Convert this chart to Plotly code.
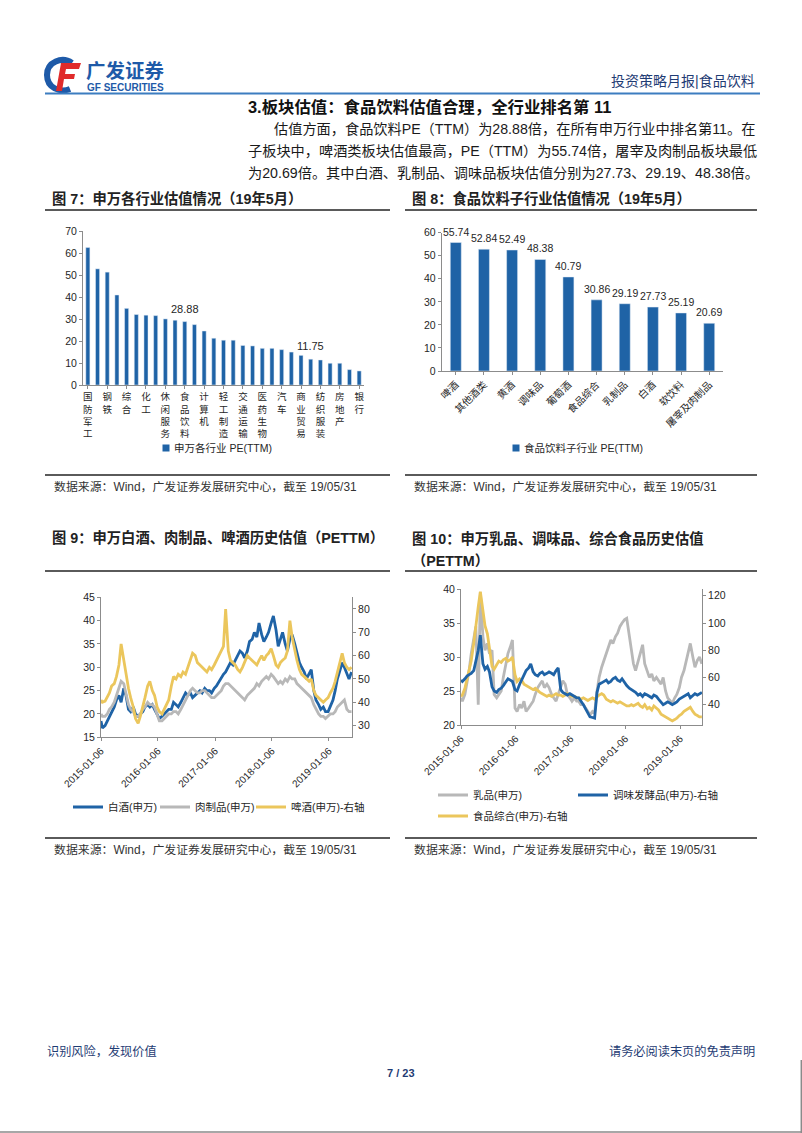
import plotly.graph_objects as go

W, H = 802, 1133


def X(px):
    return px / W


def Y(py):
    return 1 - py / H


BLUE = "#1F63A6"
GRAY = "#B8B8B8"
YELLOW = "#EBC65C"
AX = "#8C8C8C"
TXT = "#262626"
NAVY = "#1F3C74"
FONT = "Liberation Sans, Arial, Noto Sans CJK SC, sans-serif"

# ---------------- Figure 7 data ----------------
industries = ["国防军工", "通信", "钢铁", "电子", "综合", "传媒", "化工", "农林牧渔", "休闲服务",
              "有色金属", "食品饮料", "电气设备", "计算机", "机械设备", "轻工制造", "家用电器",
              "交通运输", "公用事业", "医药生物", "建筑材料", "汽车", "全部A股", "商业贸易",
              "非银金融", "纺织服装", "建筑装饰", "房地产", "采掘", "银行"]
industry_pe = [62.6, 52.9, 51.4, 41.0, 34.9, 32.1, 31.8, 31.6, 30.1, 29.5, 28.88, 27.5, 24.6,
               21.3, 20.4, 20.4, 18.0, 17.8, 16.7, 16.7, 16.1, 15.0, 13.5, 11.75, 11.4, 9.9,
               9.9, 7.0, 6.4]
industry_ticks = ["国防军工", "钢铁", "综合", "化工", "休闲服务", "食品饮料", "计算机", "轻工制造",
                  "交通运输", "医药生物", "汽车", "商业贸易", "纺织服装", "房地产", "银行"]
industry_labelled = ["食品饮料", "非银金融"]
industry_series = "申万各行业 PE(TTM)"

# ---------------- Figure 8 data ----------------
sub_names = ["啤酒", "其他酒类", "黄酒", "调味品", "葡萄酒", "食品综合", "乳制品", "白酒", "软饮料", "屠宰及肉制品"]
sub_pe = [55.74, 52.84, 52.49, 48.38, 40.79, 30.86, 29.19, 27.73, 25.19, 20.69]
sub_series = "食品饮料子行业 PE(TTM)"

# ---------------- Time grid (semi-monthly samples) ----------------
dates = ["2015-01-06", "2015-01-15"]
for yr in range(2015, 2020):
    for mo in range(1, 13):
        if (yr == 2015 and mo == 1) or (yr == 2019 and mo > 5):
            continue
        dates += [f"{yr}-{mo:02d}-01", f"{yr}-{mo:02d}-15"]
dates.append("2019-05-31")

# ---------------- Figure 9 data ----------------
baijiu = [
    18.5, 17, 17.5, 18.5, 19.5, 20.5, 21.5, 23, 24, 22.5, 25.5, 24, 21, 20.5, 21.5, 20, 19.5, 20, 20.5, 21.5, 22, 21.5, 22, 21,
    20, 19, 19.5, 20, 20.5, 21, 21, 22.5, 22, 21.5, 22.5, 23.5, 24.5, 24, 24.5, 23.5, 24, 24.5, 25, 24.5, 25.5, 25, 25, 24.5,
    25.5, 26, 27, 27.5, 28.5, 29, 30, 31, 30.5, 31.5, 32.5, 33.5, 33, 32, 33.5, 35.5, 36, 37.5, 36.5, 39.5, 37, 35.5, 36.5, 37.5,
    39.5, 41, 38, 34.5, 36, 37.5, 35, 33.5, 36, 37, 35, 33, 31, 30, 29, 27.5, 28.5, 29.5, 25, 23, 22, 21, 21.5, 20.5,
    20.5, 21.5, 23, 25, 27.5, 29, 31, 30, 28.5, 27.5, 29]
rouzhipin = [
    20, 19.5, 19.5, 20, 21, 21.5, 22.5, 24, 25.5, 27, 26.5, 24.5, 22, 21, 20.5, 19.5, 19.5, 20, 21, 21.5, 22.5, 22, 22, 21.5,
    20, 18.5, 18.5, 19, 19.5, 20, 20, 20.5, 20.5, 20, 21, 22, 23, 24, 25, 25.5, 25, 24.5, 24.5, 25, 25, 24.5, 24, 23.5,
    23.5, 24, 24.5, 25, 26, 26.5, 26.5, 26, 25.5, 25, 24.5, 24, 23.5, 23, 24, 24.5, 25, 25.5, 26.5, 26, 27, 27.5, 28, 27.5,
    28.5, 28, 27, 26.5, 27, 26.5, 27.5, 27, 28, 27.5, 27.5, 26.5, 26, 25.5, 25, 24.5, 24, 23.5, 22, 21, 20, 19.5, 19.5, 19,
    19.5, 20, 20, 20.5, 21.5, 22, 22.5, 23, 21, 20.5, 20.5]
pijiu = [
    41, 40, 40.5, 42, 44, 47, 48, 51, 56, 65, 58, 52, 46, 42, 38, 33, 31, 34, 38, 42, 47, 49, 45, 43,
    38, 36, 35, 37, 39, 41, 47, 51, 50, 52, 51, 53, 52, 55, 58, 61, 60, 57, 56, 55, 54, 53, 55, 54,
    56, 58, 60, 62, 64, 80, 62, 58, 57, 56, 54, 53, 55, 57, 60, 59, 58, 57, 56, 58, 60, 58, 60, 61,
    63, 60, 56, 55, 57, 58, 59, 62, 75, 68, 62, 58, 54, 52, 51, 50, 49, 50, 45, 43, 42, 41, 40, 41,
    42, 44, 46, 49, 53, 57, 61, 57, 55, 54, 55]

# ---------------- Figure 10 data ----------------
rupin = [
    24, 23.5, 24.5, 26, 28, 30.5, 33, 34.5, 23, 39.5, 33, 31, 32, 30.5, 31, 24.5, 24, 24.5, 25, 27, 29, 30.5, 31.5, 32.5,
    22.5, 22, 23, 22.5, 23.5, 22, 22.5, 23, 23.5, 24.5, 25.5, 26, 26.5, 25.5, 26, 25.5, 24.5, 24, 23.5, 24.5, 25.5, 26.5, 26, 24.5,
    24, 23.5, 24, 23.5, 23.5, 23, 23, 22.5, 22, 21.5, 22, 21.8, 25, 27, 28.5, 29.5, 30.5, 31.5, 32.5, 32, 33, 33.5, 34.5, 35,
    35.5, 35.7, 33, 31, 29, 28, 29.5, 30.5, 31.8, 29, 28, 27, 27.5, 26.5, 27, 26.5, 26, 27, 25, 24, 23.5, 23.2, 24, 24.5,
    25.5, 27, 28, 29.5, 31, 32, 30, 28.5, 29.5, 30, 29]
tiaowei = [
    58, 57, 59, 61, 62, 63, 65, 72, 80, 91, 70, 66, 68, 64, 53, 50, 49, 51, 52, 54, 57, 59, 58, 57,
    51, 50, 55, 58, 62, 65, 67, 70, 64, 62, 61, 63, 64, 62, 63, 64, 63, 62, 65, 67, 51, 49, 48, 47,
    48, 47, 46, 45, 45, 43, 40, 37, 34, 31, 30.5, 30, 49, 55, 56, 57, 58, 56, 57, 59, 60, 58, 57, 59,
    56, 54, 52, 51, 50, 49, 47, 48, 46, 48, 47, 46, 45, 47, 46, 44, 42, 40, 41, 42, 41, 40, 41, 42,
    44, 45, 46, 47, 48, 45, 47, 48, 47, 48, 49]
shipin = [
    46, 47, 52, 58, 64, 72, 85, 100, 112, 123, 108, 98, 92, 80, 68, 66, 70, 72, 71, 73, 74, 72, 73, 75,
    62, 57, 59, 58, 55, 54, 53, 52, 51, 52, 50, 49, 48, 47, 46, 47, 46, 47, 48, 47, 47, 46, 47, 48,
    47, 46, 46, 45, 45, 44, 45, 44, 43, 44, 45, 44, 46, 47, 48, 47, 44, 43, 42, 43, 42, 41, 42, 41,
    40, 39, 39, 40, 39, 40, 41, 39, 38, 40, 37, 38, 36, 39, 37, 36, 33, 32, 31, 30, 29, 28, 29, 30,
    32, 33, 35, 36, 37, 38, 35, 33, 32, 31, 31]

for s in (baijiu, rouzhipin, pijiu, rupin, tiaowei, shipin):
    assert len(s) == len(dates), (len(s), len(dates))

date_ticks = ["2015-01-06", "2016-01-06", "2017-01-06", "2018-01-06", "2019-01-06"]

fig = go.Figure()

# Figure 7
fig.add_trace(go.Bar(x=industries, y=industry_pe, marker_color=BLUE, width=0.42,
                     xaxis="x", yaxis="y", showlegend=False, name=industry_series))
# Figure 8
fig.add_trace(go.Bar(x=sub_names, y=sub_pe, marker_color=BLUE, width=0.39,
                     xaxis="x2", yaxis="y2", showlegend=False, name=sub_series))
# Figure 9
LW = 2.8
fig.add_trace(go.Scatter(x=dates, y=baijiu, mode="lines", name="白酒(申万)",
                         line=dict(color=BLUE, width=LW), xaxis="x3", yaxis="y3", legend="legend3"))
fig.add_trace(go.Scatter(x=dates, y=rouzhipin, mode="lines", name="肉制品(申万)",
                         line=dict(color=GRAY, width=LW), xaxis="x3", yaxis="y3", legend="legend4"))
fig.add_trace(go.Scatter(x=dates, y=pijiu, mode="lines", name="啤酒(申万)-右轴",
                         line=dict(color=YELLOW, width=LW), xaxis="x3", yaxis="y4", legend="legend5"))
# Figure 10
fig.add_trace(go.Scatter(x=dates, y=rupin, mode="lines", name="乳品(申万)",
                         line=dict(color=GRAY, width=LW), xaxis="x4", yaxis="y5", legend="legend6"))
fig.add_trace(go.Scatter(x=dates, y=shipin, mode="lines", name="食品综合(申万)-右轴",
                         line=dict(color=YELLOW, width=LW), xaxis="x4", yaxis="y6", legend="legend8"))
fig.add_trace(go.Scatter(x=dates, y=tiaowei, mode="lines", name="调味发酵品(申万)-右轴",
                         line=dict(color=BLUE, width=LW), xaxis="x4", yaxis="y6", legend="legend7"))

ax = dict(showline=True, linecolor=AX, linewidth=1, ticks="outside", ticklen=3, tickcolor=AX,
          showgrid=False, zeroline=False, fixedrange=True, automargin=False,
          tickfont=dict(size=10.5, color=TXT, family=FONT))

layout_axes = dict(
    xaxis=dict(ax, domain=[X(83), X(364)], anchor="y", type="category", range=[-0.5, len(industries) - 0.5],
               tickmode="array", tickvals=industry_ticks,
               ticktext=["<br>".join(n) for n in industry_ticks],
               tickfont=dict(size=9.5, color=TXT, family=FONT)),
    yaxis=dict(ax, domain=[Y(385), Y(231.3)], anchor="x", range=[0, 70], dtick=10),
    xaxis2=dict(ax, domain=[X(441.7), X(723.3)], anchor="y2", type="category", range=[-0.5, len(sub_names) - 0.5],
                tickangle=-45, tickfont=dict(size=10, color=TXT, family=FONT)),
    yaxis2=dict(ax, domain=[Y(371), Y(232.7)], anchor="x2", range=[0, 60], dtick=10),
    xaxis3=dict(ax, domain=[X(101), X(352)], anchor="y3", type="date", range=["2015-01-06", "2019-06-03"],
                tickmode="array", tickvals=date_ticks, ticktext=date_ticks, tickangle=-45,
                tickfont=dict(size=10, color=TXT, family=FONT)),
    yaxis3=dict(ax, domain=[Y(737.3), Y(597.3)], anchor="x3", range=[15, 45], dtick=5),
    yaxis4=dict(ax, overlaying="y3", side="right", anchor="x3", range=[25, 85], dtick=10),
    xaxis4=dict(ax, domain=[X(461), X(702)], anchor="y5", type="date", range=["2015-01-06", "2019-06-01"],
                tickmode="array", tickvals=date_ticks, ticktext=date_ticks, tickangle=-45,
                tickfont=dict(size=10, color=TXT, family=FONT)),
    yaxis5=dict(ax, domain=[Y(725), Y(589)], anchor="x4", range=[20, 40], dtick=5),
    yaxis6=dict(ax, overlaying="y5", side="right", anchor="x4", range=[25, 125], dtick=20),
)

leg = dict(orientation="h", xanchor="left", yanchor="middle", bgcolor="rgba(0,0,0,0)",
           font=dict(size=10.5, color=TXT, family=FONT), itemsizing="trace")
legends = dict(
    legend3=dict(leg, x=X(68), y=Y(807)),
    legend4=dict(leg, x=X(155), y=Y(807)),
    legend5=dict(leg, x=X(251), y=Y(807)),
    legend6=dict(leg, x=X(433), y=Y(795)),
    legend7=dict(leg, x=X(573), y=Y(795)),
    legend8=dict(leg, x=X(433), y=Y(816)),
)

ann = []
shp = []


def text(x, y, s, size, color=TXT, anchor="left", bold=False, yanchor="middle"):
    ann.append(dict(x=X(x), y=Y(y), xref="paper", yref="paper",
                    text=f"<b>{s}</b>" if bold else s, showarrow=False,
                    xanchor=anchor, yanchor=yanchor,
                    font=dict(size=size, color=color, family=FONT)))


def hline(y, x0, x1, color, width):
    shp.append(dict(type="line", xref="paper", yref="paper", x0=X(x0), x1=X(x1),
                    y0=Y(y), y1=Y(y), line=dict(color=color, width=width)))


def P(x, y):
    return f"{X(x):.5f},{Y(y):.5f}"


# ---- bar value labels ----
for name, v in zip(industries, industry_pe):
    if name in industry_labelled:
        ann.append(dict(x=name, y=v, xref="x", yref="y", text=f"{v:.2f}", showarrow=False,
                        yanchor="bottom", yshift=5, font=dict(size=11, color=TXT, family=FONT)))
for name, v in zip(sub_names, sub_pe):
    ann.append(dict(x=name, y=v, xref="x2", yref="y2", text=f"{v:.2f}", showarrow=False,
                    yanchor="bottom", yshift=3, font=dict(size=10.5, color=TXT, family=FONT)))

# ---- bar chart legends (small square key + label) ----
for cx, label in ((166, industry_series), (516, sub_series)):
    shp.append(dict(type="rect", xref="paper", yref="paper", x0=X(cx - 3.5), x1=X(cx + 3.5),
                    y0=Y(448 + 3.5), y1=Y(448 - 3.5), fillcolor=BLUE, line=dict(width=0)))
    text(cx + 5.5, 448, label, 10.5)

# ---- header ----
shp.append(dict(type="path", xref="paper", yref="paper",
                path=f"M{P(72,63)} C{P(62,56)} {P(47,62)} {P(47,75)} C{P(47,88)} {P(60,93)} {P(70,89)}",
                line=dict(color="#1E5AA8", width=6)))
shp.append(dict(type="path", xref="paper", yref="paper",
                path=f"M{P(61,63)} L{P(81,63)} L{P(79,69)} L{P(66,69)} L{P(65,74)} L{P(75,74)} "
                     f"L{P(74,79)} L{P(64,79)} L{P(62,91)} L{P(56,91)} Z",
                fillcolor="#E02B2B", line=dict(width=0)))
text(84, 71, "广发证券", 19.5, color="#1E5AA8", bold=True)
text(85, 87.5, "GF SECURITIES", 10, color="#1E5AA8", bold=True)
text(757, 81, "投资策略月报|食品饮料", 14, color=NAVY, anchor="right")
hline(93.5, 45, 760, "#3C7DC0", 2)

# ---- section text ----
text(246, 107, "3.板块估值：食品饮料估值合理，全行业排名第 11", 16.4, color="#111111", bold=True)
text(272, 128.5, "估值方面，食品饮料PE（TTM）为28.88倍，在所有申万行业中排名第11。在", 14.2, color="#1a1a1a")
text(246, 151, "子板块中，啤酒类板块估值最高，PE（TTM）为55.74倍，屠宰及肉制品板块最低", 14.2, color="#1a1a1a")
text(246, 173, "为20.69倍。其中白酒、乳制品、调味品板块估值分别为27.73、29.19、48.38倍。", 14.2, color="#1a1a1a")

# ---- chart titles and rules ----
TS = 14.3
text(50, 198, "图 7：申万各行业估值情况（19年5月）", TS, color="#222222", bold=True)
text(410, 198, "图 8：食品饮料子行业估值情况（19年5月）", TS, color="#222222", bold=True)
hline(210, 45, 390, "#5a5a5a", 1.8)
hline(210, 405, 757, "#5a5a5a", 1.8)
hline(475, 45, 390, "#5a5a5a", 1.8)
hline(475, 405, 757, "#5a5a5a", 1.8)
src = "数据来源：Wind，广发证券发展研究中心，截至 19/05/31"
text(52, 487, src, 11.9, color="#333333")
text(412, 487, src, 11.9, color="#333333")

text(50, 537, "图 9：申万白酒、肉制品、啤酒历史估值（PETTM）", TS, color="#222222", bold=True)
text(410, 538, "图 10：申万乳品、调味品、综合食品历史估值", TS, color="#222222", bold=True)
text(410, 561, "（PETTM）", TS, color="#222222", bold=True)
hline(571, 45, 390, "#5a5a5a", 1.8)
hline(571, 405, 757, "#5a5a5a", 1.8)
hline(838, 45, 390, "#5a5a5a", 1.8)
hline(838, 405, 757, "#5a5a5a", 1.8)
text(52, 849.5, src, 11.9, color="#333333")
text(412, 849.5, src, 11.9, color="#333333")

# ---- footer ----
text(45, 1051, "识别风险，发现价值", 12.2, color=NAVY)
text(757, 1051, "请务必阅读末页的免责声明", 12.2, color=NAVY, anchor="right")
text(401, 1073, "7 / 23", 11, color=NAVY, anchor="center", bold=True)
hline(1132, 0, 802, "#8a8a8a", 1.5)
shp.append(dict(type="line", xref="paper", yref="paper", x0=X(801.3), x1=X(801.3),
                y0=Y(1060), y1=Y(1133), line=dict(color="#8a8a8a", width=1.5)))

fig.update_layout(
    width=W, height=H, margin=dict(l=0, r=0, t=0, b=0, autoexpand=False),
    paper_bgcolor="white", plot_bgcolor="white",
    font=dict(family=FONT, color=TXT),
    annotations=ann, shapes=shp, bargap=0.5,
    **layout_axes, **legends,
)

fig.write_html("out.html")
